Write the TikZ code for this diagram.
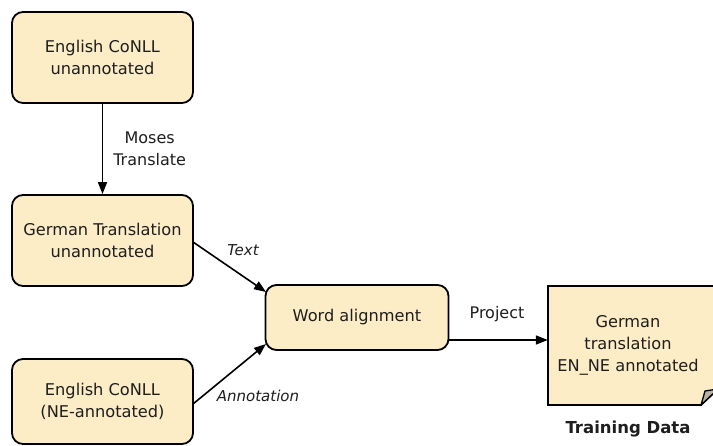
\documentclass[tikz,border=0pt]{standalone}
\usepackage{fontspec}
\setmainfont{DejaVu Sans}
\usetikzlibrary{arrows.meta}
\definecolor{boxfill}{HTML}{FDEDC6}
\definecolor{foldgray}{HTML}{B8B0A0}
\definecolor{ink}{HTML}{1E1E1E}
\tikzset{
  procbox/.style={draw=black, line width=1.8pt, fill=boxfill, rounded corners=11pt,
    align=center, text=ink, font=\fontsize{16.2}{22}\selectfont, inner sep=0pt},
  flow/.style={line width=1.6pt, -{Triangle[length=12pt,width=9pt]}},
  lab/.style={font=\fontsize{16}{22}\selectfont, text=ink, align=center, inner sep=0pt},
  ilab/.style={lab, font=\fontsize{15}{22}\selectfont\itshape},
}
\begin{document}
\begin{tikzpicture}[x=1pt,y=-1pt]
\useasboundingbox (0,0) rectangle (713,446);
\fill[white] (0,0) rectangle (713,446);

% source and intermediate boxes
\node[procbox, minimum width=181pt, minimum height=91pt] (en) at (102.5,57.5)
  {English CoNLL\\unannotated};
\node[procbox, minimum width=181pt, minimum height=91pt] (de) at (102.5,240.5)
  {German Translation\\unannotated};
\node[procbox, minimum width=181pt, minimum height=85pt] (ne) at (102.5,401.5)
  {English CoNLL\\(NE-annotated)};
\node[procbox, minimum width=183pt, minimum height=65pt] (wa) at (357,317.5)
  {Word alignment};

% output document with folded corner
\draw[line width=1.8pt, fill=boxfill]
  (548,286) -- (718,286) -- (718,389) -- (701,405) -- (548,405) -- cycle;
\draw[line width=1.3pt, fill=foldgray, line join=round]
  (701,405) -- (705,391) -- (718,389) -- cycle;
\node[lab, minimum width=160pt, minimum height=119pt, font=\fontsize{16.2}{22}\selectfont]
  (doc) at (628,345) {German\\translation\\EN\_NE annotated};
\node[lab, font=\fontsize{16.5}{22}\selectfont\bfseries] (td) at (628,429) {Training Data};

% connectors
\draw[flow] (en.south) -- (de.north)
  node[lab, midway, right=10pt] {Moses\\Translate};
\coordinate (waTop) at (266,292);
\coordinate (waBot) at (266,344);
\draw[flow] (193,242) -- (waTop);
\node[ilab] (txt) at (243,250) {Text};
\draw[flow] (193,404) -- (waBot);
\node[ilab] (ann) at (258,396) {Annotation};
\draw[flow] (wa.east |- 0,340) -- (doc.west |- 0,340);
\node[lab] (prj) at (497,314) {Project};
\end{tikzpicture}
\end{document}
